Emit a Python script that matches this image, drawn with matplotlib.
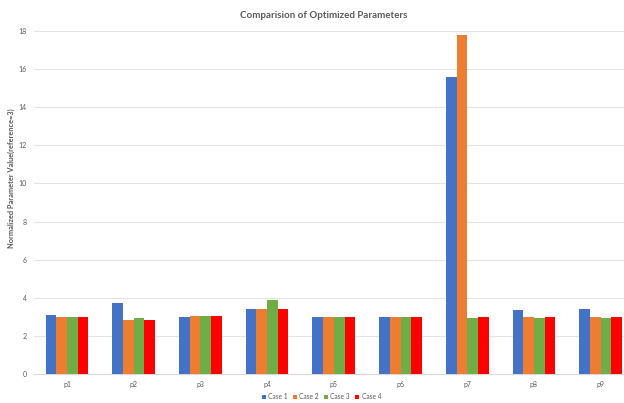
import matplotlib.pyplot as plt
import numpy as np

params = ['p1', 'p2', 'p3', 'p4', 'p5', 'p6', 'p7', 'p8', 'p9']
case_names = ['Case 1', 'Case 2', 'Case 3', 'Case 4']

case1 = [3.1, 3.75, 3.0, 3.42, 3.0, 3.0, 15.6, 3.37, 3.4]
case2 = [3.0, 2.85, 3.02, 3.42, 3.0, 3.0, 17.8, 3.0, 3.0]
case3 = [3.0, 2.95, 3.05, 3.87, 3.0, 3.0, 2.95, 2.93, 2.93]
case4 = [3.0, 2.85, 3.03, 3.42, 3.0, 3.0, 3.0, 3.0, 3.0]

plt.rcParams['font.family'] = ['Lato', 'DejaVu Sans']

colors = ['#4472C4', '#ED7D31', '#70AD47', '#FF0000']
grey = '#595959'

fig = plt.figure(figsize=(6.24, 4.03), dpi=100)
ax = fig.add_axes([0.054, 0.072, 0.962, 0.851])

barWidth = 0.16
r = np.arange(len(params))
all_cases = [case1, case2, case3, case4]
for i, vals in enumerate(all_cases):
    ax.bar(r + (i - 1.5) * barWidth, vals, width=barWidth, color=colors[i],
           label=case_names[i], zorder=3)

ax.set_xlim(-0.5, len(params) - 0.5)
ax.set_ylim(0, 18)
ax.set_yticks(np.arange(0, 19, 2))
ax.set_xticks(r, params)
ax.grid(axis='y', color='#E3E3E3', linewidth=0.8, zorder=0)
for s in ['top', 'right', 'left']:
    ax.spines[s].set_visible(False)
ax.spines['bottom'].set_color('#D9D9D9')
ax.tick_params(axis='both', length=0, labelsize=5, colors=grey, pad=5)

ax.set_ylabel('Normalized Parameter Value(reference=3)', fontsize=5.3,
              fontweight='bold', color=grey)
ax.yaxis.set_label_coords(-0.031, 0.57)
fig.suptitle('Comparision of Optimized Parameters', fontsize=7,
             fontweight='bold', color=grey, x=0.518, y=0.972)

leg = fig.legend(loc='center', bbox_to_anchor=(0.515, 0.016), ncol=4,
                 frameon=False, fontsize=4.8, handlelength=0.6, handleheight=0.6,
                 handletextpad=0.35, columnspacing=0.8)
for t in leg.get_texts():
    t.set_color(grey)

fig.savefig('out.png', dpi=100)
